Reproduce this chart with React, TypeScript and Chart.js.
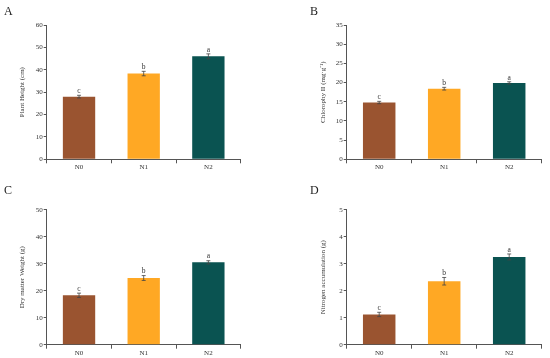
import React, { useEffect, useRef } from 'react';
import { Chart, registerables } from 'chart.js';
Chart.register(...registerables);

const CATEGORIES = ['N0', 'N1', 'N2'];
const BAR_COLORS = ['#9A5430', '#FFA824', '#0A5351'];
const SIG_LETTERS = ['c', 'b', 'a'];

const PLANT_HEIGHT = [28.0, 38.3, 46.0];
const PLANT_HEIGHT_ERR = [0.6, 1.0, 1.1];
const CHLOROPHYLL = [14.8, 18.4, 19.9];
const CHLOROPHYLL_ERR = [0.3, 0.35, 0.3];
const DRY_WEIGHT = [18.3, 24.7, 30.5];
const DRY_WEIGHT_ERR = [0.8, 0.9, 0.6];
const NITROGEN = [1.12, 2.35, 3.25];
const NITROGEN_ERR = [0.08, 0.14, 0.11];

const PW = 275;
const PH = 179;
const FONT = 'Liberation Serif';
const AXIS_COLOR = '#555';
const TEXT_COLOR = '#333';

type PanelProps = {
  values: number[];
  errs: number[];
  yMax: number;
  step: number;
  title: string;
  area: { left: number; right: number; top: number; bottom: number };
  titlePad: number;
  x: number;
  y: number;
  label: string;
};

function Panel(p: PanelProps) {
  const ref = useRef<HTMLCanvasElement | null>(null);
  useEffect(() => {
    if (!ref.current) return;
    const errPlugin = {
      id: 'errLetters',
      afterDatasetsDraw(chart: any) {
        const ctx = chart.ctx;
        const meta = chart.getDatasetMeta(0);
        const ys = chart.scales.y;
        ctx.save();
        ctx.strokeStyle = '#444';
        ctx.lineWidth = 0.8;
        meta.data.forEach((bar: any, i: number) => {
          const v = p.values[i];
          const e = p.errs[i];
          const xp = bar.x;
          const yt = ys.getPixelForValue(v + e);
          const yb = ys.getPixelForValue(v - e);
          ctx.beginPath();
          ctx.moveTo(xp, yt);
          ctx.lineTo(xp, yb);
          ctx.moveTo(xp - 2, yt);
          ctx.lineTo(xp + 2, yt);
          ctx.moveTo(xp - 2, yb);
          ctx.lineTo(xp + 2, yb);
          ctx.stroke();
          ctx.fillStyle = TEXT_COLOR;
          ctx.font = `7.5px "${FONT}"`;
          ctx.textAlign = 'center';
          ctx.textBaseline = 'bottom';
          ctx.fillText(SIG_LETTERS[i], xp, yt - 0.5);
        });
        ctx.restore();
      },
    };
    const chart = new Chart(ref.current, {
      type: 'bar',
      data: {
        labels: CATEGORIES,
        datasets: [
          {
            data: p.values,
            backgroundColor: BAR_COLORS,
            borderWidth: 0,
            barPercentage: 0.5,
            categoryPercentage: 1,
          },
        ],
      },
      options: {
        responsive: false,
        animation: false,
        devicePixelRatio: 1,
        layout: { padding: { left: 0, top: p.area.top, right: PW - p.area.right, bottom: 0 } },
        plugins: { legend: { display: false }, tooltip: { enabled: false } },
        scales: {
          x: {
            grid: { display: true, drawOnChartArea: false, drawTicks: true, tickLength: 4, color: AXIS_COLOR, offset: true },
            border: { display: true, color: AXIS_COLOR, width: 1 },
            ticks: { font: { family: FONT, size: 7 }, color: TEXT_COLOR, padding: 0 },
            afterFit: (s: any) => {
              s.height = PH - p.area.bottom;
            },
          },
          y: {
            min: 0,
            max: p.yMax,
            ticks: { stepSize: p.step, font: { family: FONT, size: 7 }, color: TEXT_COLOR, padding: 1 },
            grid: { display: true, drawOnChartArea: false, drawTicks: true, tickLength: 3, color: AXIS_COLOR },
            border: { display: true, color: AXIS_COLOR, width: 1 },
            title: {
              display: true,
              text: p.title,
              font: { family: FONT, size: 7 },
              color: TEXT_COLOR,
              padding: { top: p.titlePad, bottom: 0 },
            },
            afterFit: (s: any) => {
              s.width = p.area.left;
            },
          },
        },
      },
      plugins: [errPlugin],
    } as any);
    return () => chart.destroy();
  }, []);
  return (
    <div style={{ position: 'absolute', left: p.x, top: p.y, width: PW, height: PH }}>
      <canvas ref={ref} width={PW} height={PH} style={{ display: 'block', width: PW, height: PH }} />
      <div
        style={{
          position: 'absolute',
          left: p.label === 'A' || p.label === 'C' ? 4 : 35,
          top: 5,
          fontFamily: FONT,
          fontSize: 12,
          color: '#222',
          lineHeight: 1,
        }}
      >
        {p.label}
      </div>
    </div>
  );
}

export default function App() {
  return (
    <div style={{ position: 'absolute', left: 0, top: 0, width: 550, height: 358, background: '#fff' }}>
      <Panel
        x={0}
        y={0}
        label="A"
        values={PLANT_HEIGHT}
        errs={PLANT_HEIGHT_ERR}
        yMax={60}
        step={10}
        title="Plant Height (cm)"
        area={{ left: 46.7, right: 240.7, top: 25, bottom: 159.3 }}
        titlePad={18}
      />
      <Panel
        x={275}
        y={0}
        label="B"
        values={CHLOROPHYLL}
        errs={CHLOROPHYLL_ERR}
        yMax={35}
        step={5}
        title="Chlorophy II (mg·g⁻¹)"
        area={{ left: 71.7, right: 266.7, top: 25, bottom: 159.3 }}
        titlePad={44}
      />
      <Panel
        x={0}
        y={179}
        label="C"
        values={DRY_WEIGHT}
        errs={DRY_WEIGHT_ERR}
        yMax={50}
        step={10}
        title="Dry matter Weight (g)"
        area={{ left: 46.7, right: 240.7, top: 30.7, bottom: 165.7 }}
        titlePad={18}
      />
      <Panel
        x={275}
        y={179}
        label="D"
        values={NITROGEN}
        errs={NITROGEN_ERR}
        yMax={5}
        step={1}
        title="Nitrogen accumulation (g)"
        area={{ left: 71.7, right: 266.7, top: 30.7, bottom: 165.7 }}
        titlePad={44}
      />
    </div>
  );
}
